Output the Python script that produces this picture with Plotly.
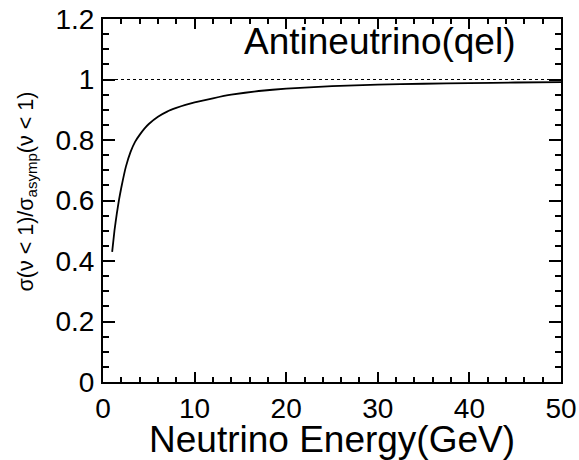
import numpy as np
import plotly.graph_objects as go

# Ratio of the cross section to its asymptotic value, antineutrino quasi-elastic
energy_gev = [1.0, 1.25, 1.5, 1.75, 2.0, 2.5, 3.0, 3.5, 4.0, 4.5, 5.0, 6.0, 7.0, 8.0, 9.0,
              10.0, 12.0, 14.0, 17.0, 20.0, 25.0, 30.0, 35.0, 40.0, 45.0, 50.0]
xsec_ratio = [0.430, 0.500, 0.555, 0.603, 0.643, 0.712, 0.760, 0.794, 0.817, 0.837, 0.853,
              0.877, 0.894, 0.906, 0.916, 0.924, 0.938, 0.950, 0.962, 0.970, 0.978, 0.983,
              0.986, 0.988, 0.990, 0.991]

# Asymptotic reference level
ref_x = [0.0, 50.0]
ref_y = [1.0, 1.0]

x_range = [0, 50]
y_range = [0, 1.2]
x_major, x_minor = 10, 2
y_major, y_minor = 0.2, 0.05

FONT = "Liberation Sans, Arial, Helvetica, sans-serif"

fig = go.Figure()

fig.add_trace(go.Scatter(x=ref_x, y=ref_y, mode="lines",
                         line=dict(color="black", width=1, dash="3px,3px"),
                         hoverinfo="skip"))
fig.add_trace(go.Scatter(x=energy_gev, y=xsec_ratio, mode="lines",
                         line=dict(color="black", width=1.8, shape="spline", smoothing=0.3)))

fig.update_xaxes(
    range=x_range, tickmode="linear", tick0=0, dtick=x_major,
    showgrid=False, zeroline=False, showline=True, linecolor="black", linewidth=2,
    mirror="allticks", ticks="inside", ticklen=10, tickwidth=2, tickcolor="#000000",
    minor=dict(dtick=x_minor, ticks="inside", ticklen=5, tickwidth=2, tickcolor="#000000",
               showgrid=False),
    tickfont=dict(family=FONT, size=28, color="black"),
    automargin=False,
)
fig.update_yaxes(
    range=y_range, tickmode="linear", tick0=0, dtick=y_major,
    showgrid=False, zeroline=False, showline=True, linecolor="black", linewidth=2,
    mirror="allticks", ticks="inside", ticklen=12, tickwidth=2, tickcolor="#000000",
    minor=dict(dtick=y_minor, ticks="inside", ticklen=6, tickwidth=2, tickcolor="#000000",
               showgrid=False),
    ticklabelstandoff=1,
    tickfont=dict(family=FONT, size=28, color="black"),
    automargin=False,
)

fig.add_annotation(text="Neutrino Energy(GeV)", xref="paper", yref="paper",
                   x=0.5, y=0, xanchor="center", yanchor="middle", yshift=-57,
                   showarrow=False, font=dict(family=FONT, size=37, color="black"))
fig.add_annotation(text="σ(ν < 1)/σ<sub>asymp</sub>(ν < 1)", xref="paper", yref="paper",
                   x=0, y=0.5, xanchor="center", yanchor="middle", xshift=-76, yshift=9,
                   textangle=-90, showarrow=False,
                   font=dict(family=FONT, size=21.5, color="black"))
fig.add_annotation(text="Antineutrino(qel)", xref="paper", yref="paper",
                   x=0.905, y=1.0, xanchor="right", yanchor="top", showarrow=False,
                   font=dict(family=FONT, size=37, color="black"))

fig.update_layout(
    width=579, height=460, showlegend=False,
    paper_bgcolor="white", plot_bgcolor="white",
    margin=dict(l=103, r=18, t=19, b=78),
)

fig.write_html("out.html")
